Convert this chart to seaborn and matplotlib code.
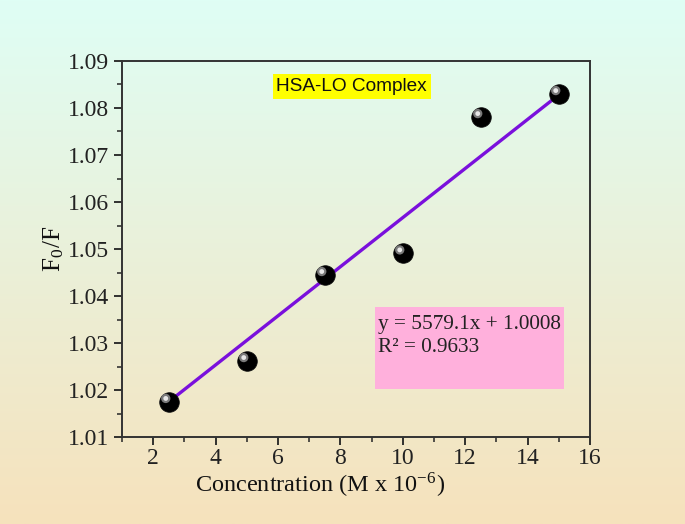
import numpy as np
import pandas as pd
import matplotlib
matplotlib.use("Agg")
import matplotlib.pyplot as plt
import matplotlib.transforms as mtransforms
from matplotlib.ticker import AutoMinorLocator
import seaborn as sns

# ---- data ----
concentration = [2.5, 5.0, 7.5, 10.0, 12.5, 15.0]
f0_over_f = [1.0175, 1.0262, 1.0445, 1.0491, 1.0781, 1.0830]
fit_x = [2.5, 15.0]
fit_y = [1.0175, 1.0828]
x_ticks = [2, 4, 6, 8, 10, 12, 14, 16]
y_ticks = [1.01, 1.02, 1.03, 1.04, 1.05, 1.06, 1.07, 1.08, 1.09]
title_text = "HSA-LO Complex"
eq_text = "y = 5579.1x + 1.0008\nR² = 0.9633"

df = pd.DataFrame({"x": concentration, "y": f0_over_f})
fit_df = pd.DataFrame({"x": fit_x, "y": fit_y})

sns.set_theme(style="ticks")
plt.rcParams['font.family'] = ['Liberation Serif', 'DejaVu Serif']
plt.rcParams['mathtext.fontset'] = 'stix'

fig = plt.figure(figsize=(6.85, 5.24), dpi=100)

# gradient background
bg = fig.add_axes([0, 0, 1, 1], zorder=-10)
top = np.array([0xDF, 0xFE, 0xF5]) / 255
bot = np.array([0xF6, 0xE2, 0xBC]) / 255
t = np.linspace(0, 1, 256)[:, None]
grad = top[None, :] * (1 - t) + bot[None, :] * t
bg.imshow(grad[:, None, :], aspect="auto", extent=[0, 1, 0, 1], origin="upper")
bg.axis("off")

ax = fig.add_axes([0.1781, 0.166, 0.6832, 0.7176])
ax.set_facecolor("none")

sns.lineplot(data=fit_df, x="x", y="y", ax=ax, color="#7A10DC", linewidth=2.4, zorder=2)
sns.scatterplot(data=df, x="x", y="y", ax=ax, color="black", s=200,
                edgecolor="#111111", linewidth=0.5, zorder=3)
# sphere highlight (same data, offset in screen space)
off = mtransforms.ScaledTranslation(-2.2 / 72, 2.4 / 72, fig.dpi_scale_trans)
ax.scatter(concentration, f0_over_f, s=45, color="#7a7a7a", edgecolor="none",
           zorder=4, transform=ax.transData + off)
ax.scatter(concentration, f0_over_f, s=12, color="#e8e8e8", edgecolor="none",
           zorder=5, transform=ax.transData + off)

ax.set_xlim(1, 16)
ax.set_ylim(1.01, 1.09)
ax.set_xticks(x_ticks)
ax.set_yticks(y_ticks)
ax.set_yticklabels([f"{v:.2f}" for v in y_ticks])
ax.xaxis.set_minor_locator(AutoMinorLocator(2))
ax.yaxis.set_minor_locator(AutoMinorLocator(2))
ax.tick_params(which="major", direction="out", length=6, width=1.3, labelsize=17,
               colors="#222222", top=False, right=False, pad=3)
ax.tick_params(axis="x", which="major", pad=2)
ax.tick_params(which="minor", direction="out", length=3.5, width=1.1,
               top=False, right=False)
for s in ax.spines.values():
    s.set_visible(True)
    s.set_linewidth(1.4)
    s.set_color("#333333")

ax.set_xlabel("Concentration (M x 10$^{\\mathregular{-6}}$)", fontsize=17.5, labelpad=0, color="#111111")
ax.xaxis.set_label_coords(0.423, -0.09)
ax.set_ylabel("F$_{\\mathregular{0}}$/F", fontsize=18, color="#111111")
ax.yaxis.set_label_coords(-0.12, 0.5)

# yellow title box
ax.text(0.491, 0.932, title_text, transform=ax.transAxes, ha="center", va="center",
        fontsize=13.7, family=["Liberation Sans", "DejaVu Sans"], color="#111111",
        bbox=dict(boxstyle="square,pad=0.2", facecolor="#FFFF00", edgecolor="none"))

# pink equation box
box = plt.Rectangle((0.5408, 0.1277), 0.404, 0.218, transform=ax.transAxes,
                    facecolor="#FFB0DC", edgecolor="none", zorder=1)
ax.add_patch(box)
ax.text(0.547, 0.324, eq_text, transform=ax.transAxes, ha="left", va="top",
        fontsize=15.3, color="#222222", linespacing=1.3, zorder=2)

fig.savefig("out.png", dpi=100)
